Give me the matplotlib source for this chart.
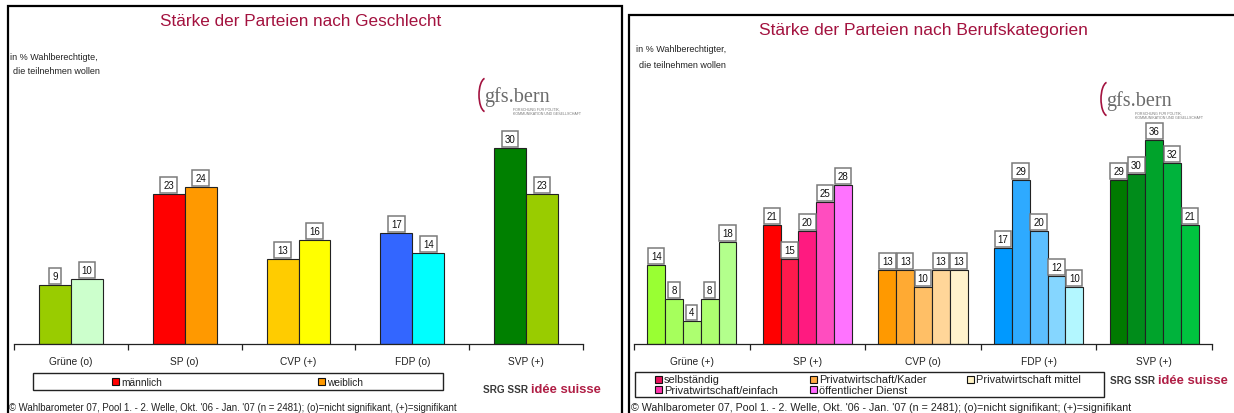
import numpy as np
import matplotlib.pyplot as plt
from matplotlib.patches import Rectangle, Arc

plt.rcParams['font.family'] = ['Liberation Sans', 'DejaVu Sans']

W, H = 1234, 414

# --- linke Grafik: nach Geschlecht
parteien_g = ['Grüne (o)', 'SP (o)', 'CVP (+)', 'FDP (o)', 'SVP (+)']
maennlich = [9, 23, 13, 17, 30]
weiblich = [10, 24, 16, 14, 23]
farben_m = ['#99CC00', '#FF0000', '#FFCC00', '#3366FF', '#008000']
farben_w = ['#CCFFCC', '#FF9900', '#FFFF00', '#00FFFF', '#99CC00']

# --- rechte Grafik: nach Berufskategorien
parteien_b = ['Grüne (+)', 'SP (+)', 'CVP (o)', 'FDP (+)', 'SVP (+)']
gruene_b = [14, 8, 4, 8, 18]
sp_b = [21, 15, 20, 25, 28]
cvp_b = [13, 13, 10, 13, 13]
fdp_b = [17, 29, 20, 12, 10]
svp_b = [29, 30, 36, 32, 21]
farben_gruene = ['#99FF33', '#A6FF5C', '#ADFF70', '#ADFF70', '#B3FF8C']
farben_sp = ['#FF0000', '#FF1A4D', '#FF1A80', '#FF4DBF', '#FF73FF']
farben_cvp = ['#FF9900', '#FFAA33', '#FFBF66', '#FFD699', '#FFF2CC']
farben_fdp = ['#0099FF', '#2EAAFF', '#5CBFFF', '#85D6FF', '#B3F7FF']
farben_svp = ['#007A00', '#008C1A', '#00A32B', '#00B33C', '#00C43F']
berufe = ['selbständig', 'Privatwirtschaft/Kader', 'Privatwirtschaft mittel',
          'Privatwirtschaft/einfach', 'öffentlicher Dienst']
farben_berufe = ['#E8115C', '#FFAA44', '#FFF2C4', '#FF33AA', '#FF66FF']

ROT = '#A3123F'
fusszeile_l = "© Wahlbarometer 07, Pool 1. - 2. Welle, Okt. '06 - Jan. '07 (n = 2481); (o)=nicht signifikant, (+)=signifikant"
fusszeile_r = "© Wahlbarometer 07, Pool 1. - 2. Welle, Okt. '06 - Jan. '07 (n = 2481); (o)=nicht signifikant; (+)=signifikant"

fig = plt.figure(figsize=(W / 100, H / 100), dpi=100)
deko = fig.add_axes([0, 0, 1, 1])
deko.set_xlim(0, W)
deko.set_ylim(H, 0)
deko.axis('off')


def achse(x0, x1, basis, px_pro_einheit, ymax=40):
    ax = fig.add_axes([x0 / W, (H - basis) / H, (x1 - x0) / W, ymax * px_pro_einheit / H])
    ax.set_facecolor('none')
    ax.set_xlim(-0.5, 4.5)
    ax.set_ylim(0, ymax)
    for s in ['top', 'right', 'left']:
        ax.spines[s].set_visible(False)
    ax.spines['bottom'].set_color('#222222')
    ax.spines['bottom'].set_linewidth(0.9)
    ax.set_yticks([])
    ax.set_xticks(np.arange(-0.5, 5, 1))
    ax.set_xticklabels([])
    ax.tick_params(axis='x', which='major', length=4, width=0.9, color='#222222')
    return ax


def wert_label(ax, x, v):
    ax.annotate(str(v), (x, v), xytext=(0, 2.8), textcoords='offset points',
                ha='center', va='bottom', fontsize=7, color='#111111',
                bbox=dict(boxstyle='square,pad=0.3', fc='white', ec='#7a7a7a', lw=1.1))


def logo(x, y):
    deko.add_patch(Arc((x + 6, y + 8), 14, 34, theta1=95, theta2=265, color=ROT, lw=1.2))
    deko.text(x + 4, y + 9, 'gfs.bern', family='Liberation Serif', fontsize=14.5,
              color='#6b6b6b', va='center', ha='left')
    deko.text(x + 33, y + 24, 'FORSCHUNG FÜR POLITIK,\nKOMMUNIKATION UND GESELLSCHAFT',
              fontsize=2.6, color='#777777', va='center', ha='left', linespacing=1.2)


def srg(x, y):
    t = deko.text(x, y, 'SRG SSR ', fontsize=7.2, fontweight='bold', color='#3a3a3a',
                  va='center', ha='left')
    deko.annotate('idée suisse', xycoords=t, xy=(1, 0.5), va='center', ha='left',
                  fontsize=9.4, fontweight='bold', color='#B01E45')


def quadrat(x, y, farbe, s=7):
    deko.add_patch(Rectangle((x, y - s / 2), s, s, fc=farbe, ec='#111111', lw=0.8))


# ---------------- linkes Panel
deko.plot([8, 8, 622, 622], [H, 7, 7, H], color='black', lw=1.6, solid_joinstyle='miter')
deko.text(301, 21, 'Stärke der Parteien nach Geschlecht', color=ROT, fontsize=12.3,
          ha='center', va='center')
deko.text(10, 57, 'in % Wahlberechtigte,', fontsize=6.5, color='#222222', va='center')
deko.text(13, 72, 'die teilnehmen wollen', fontsize=6.5, color='#222222', va='center')
logo(480, 88)

ax1 = achse(14, 583, 345, 6.53)
x = np.arange(len(parteien_g))
bw = 0.28
ax1.bar(x - bw / 2, maennlich, bw, color=farben_m, edgecolor='#222222', lw=0.8)
ax1.bar(x + bw / 2, weiblich, bw, color=farben_w, edgecolor='#222222', lw=0.8)
for i in range(len(x)):
    wert_label(ax1, x[i] - bw / 2, maennlich[i])
    wert_label(ax1, x[i] + bw / 2, weiblich[i])
ax1.set_xticks(x, minor=True)
ax1.set_xticklabels(parteien_g, minor=True, fontsize=7.3, color='#222222')
ax1.tick_params(axis='x', which='minor', length=0, pad=9)

deko.add_patch(Rectangle((33, 374), 410, 17, fc='white', ec='#222222', lw=1))
quadrat(112, 382.5, farben_m[1])
deko.text(121, 383, 'männlich', fontsize=7.3, va='center', color='#222222')
quadrat(318, 382.5, farben_w[1])
deko.text(327, 383, 'weiblich', fontsize=7.3, va='center', color='#222222')
srg(483, 390)
deko.text(9, 408, fusszeile_l, fontsize=6.9, color='#222222', va='center')

# ---------------- rechtes Panel
deko.plot([629, 629, W], [H, 16, 16], color='black', lw=1.6, solid_joinstyle='miter')
deko.text(923, 30, 'Stärke der Parteien nach Berufskategorien', color=ROT, fontsize=12.5,
          ha='center', va='center')
deko.text(636, 50, 'in % Wahlberechtigter,', fontsize=6.5, color='#222222', va='center')
deko.text(639, 66, 'die teilnehmen wollen', fontsize=6.5, color='#222222', va='center')
logo(1102, 92)

ax2 = achse(634, 1212, 345, 5.67)
werte = [gruene_b, sp_b, cvp_b, fdp_b, svp_b]
farben = [farben_gruene, farben_sp, farben_cvp, farben_fdp, farben_svp]
bw2 = 0.154
for i, (vals, cols) in enumerate(zip(werte, farben)):
    pos = i + (np.arange(5) - 2) * bw2
    ax2.bar(pos, vals, bw2, color=cols, edgecolor='#222222', lw=0.8)
    for p, v in zip(pos, vals):
        wert_label(ax2, p, v)
ax2.set_xticks(np.arange(5), minor=True)
ax2.set_xticklabels(parteien_b, minor=True, fontsize=7.3, color='#222222')
ax2.tick_params(axis='x', which='minor', length=0, pad=9)

deko.add_patch(Rectangle((635, 373), 469, 25, fc='white', ec='#222222', lw=1))
leg_pos = [(655, 380), (810, 380), (967, 380), (655, 391), (810, 391)]
for (lx, ly), name, f in zip(leg_pos, berufe, farben_berufe):
    quadrat(lx, ly, f)
    deko.text(lx + 9, ly, name, fontsize=7.9, va='center', color='#222222')
srg(1110, 381)
deko.text(631, 408, fusszeile_r, fontsize=7.7, color='#222222', va='center')

fig.savefig('out.png', dpi=100)
